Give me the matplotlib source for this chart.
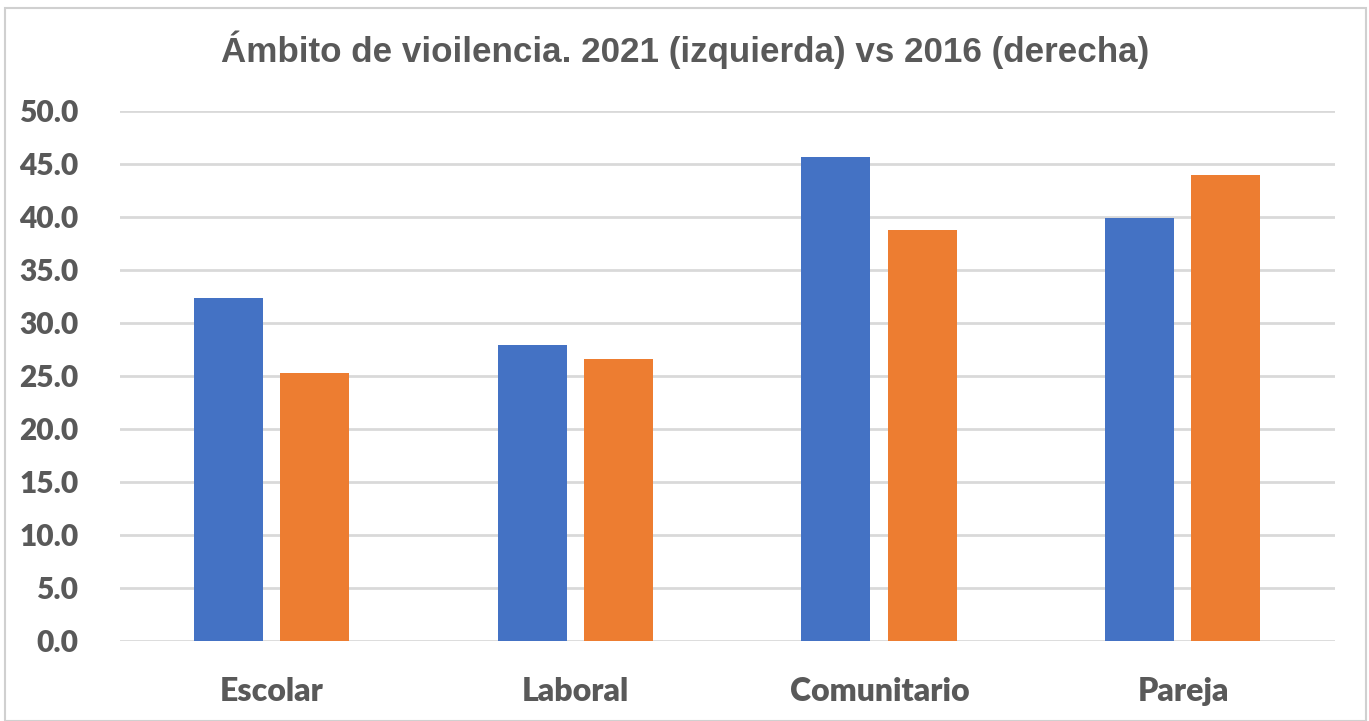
import matplotlib.pyplot as plt
from matplotlib.patches import Rectangle
import numpy as np

categories = ["Escolar", "Laboral", "Comunitario", "Pareja"]
values_2021 = [32.3, 27.9, 45.65, 39.9]
values_2016 = [25.25, 26.6, 38.75, 43.95]
y_ticks = [0, 5, 10, 15, 20, 25, 30, 35, 40, 45, 50]

BLUE = "#4472C4"
ORANGE = "#ED7D31"
TEXT = "#595959"
GRID = "#D9D9D9"


def main():
    fig = plt.figure(figsize=(13.69, 7.21), dpi=100)
    ax = fig.add_axes([120 / 1369, 1 - 641 / 721, (1335 - 120) / 1369, (641 - 110.7) / 721])

    x = np.arange(len(categories))
    width = 0.227
    ax.bar(x - 0.143, values_2021, width, color=BLUE, zorder=3)
    ax.bar(x + 0.141, values_2016, width, color=ORANGE, zorder=3)

    ax.set_xlim(-0.5, len(categories) - 0.5)
    ax.set_ylim(0, 50)
    ax.set_yticks(y_ticks)
    ax.set_yticklabels(["{:.1f}".format(v) for v in y_ticks])
    ax.set_xticks(x)
    ax.set_xticklabels(categories)

    for lab in ax.get_yticklabels():
        lab.set_fontfamily("Lato")
        lab.set_fontweight("heavy")
        lab.set_fontsize(21.5)
        lab.set_color(TEXT)
    for lab in ax.get_xticklabels():
        lab.set_fontfamily("Lato")
        lab.set_fontweight("heavy")
        lab.set_fontsize(23)
        lab.set_color(TEXT)

    ax.tick_params(axis="both", length=0)
    ax.tick_params(axis="y", pad=30)
    ax.tick_params(axis="x", pad=26)
    ax.grid(axis="y", color=GRID, linewidth=2, zorder=0)
    for s in ax.spines.values():
        s.set_visible(False)

    fig.text(685 / 1369, 1 - 50 / 721, "Ámbito de vioilencia. 2021 (izquierda) vs 2016 (derecha)",
             ha="center", va="center", fontsize=25.2, fontweight="bold",
             family="Liberation Sans", color=TEXT)

    # light frame round the chart
    fig.patches.append(Rectangle((5 / 1369, 0), 1361 / 1369, 1 - 8 / 721,
                                 transform=fig.transFigure, fill=False,
                                 edgecolor="#D0D0D0", linewidth=1.5))

    fig.savefig("out.png", dpi=100)


if __name__ == "__main__":
    main()
